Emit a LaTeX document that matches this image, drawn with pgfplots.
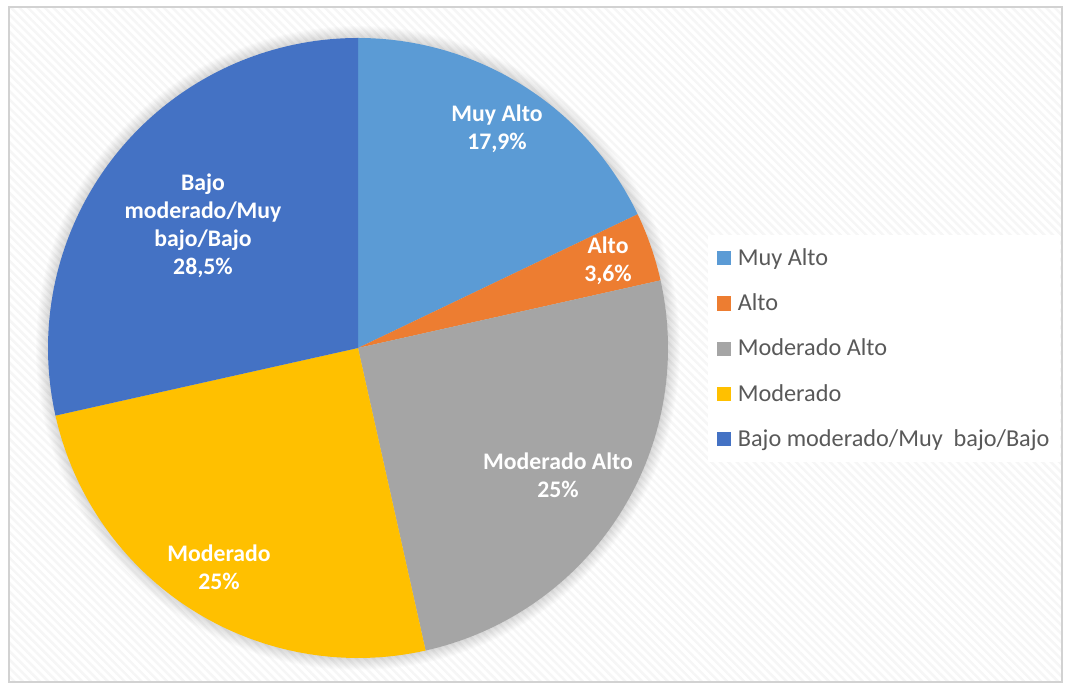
\documentclass[border=0pt]{standalone}
\usepackage{pgfplots}
\pgfplotsset{compat=1.18}
\usepackage{pgfplotstable}
\usepackage{fontspec}
\setmainfont{Carlito}
\usetikzlibrary{patterns.meta}
\definecolor{cMuyAlto}{HTML}{5B9BD5}
\definecolor{cAlto}{HTML}{ED7D31}
\definecolor{cModAlto}{HTML}{A5A5A5}
\definecolor{cMod}{HTML}{FFC000}
\definecolor{cBajo}{HTML}{4472C4}
\definecolor{legtext}{HTML}{595959}

\pgfplotstableread{
value
17.9
3.6
25
25
28.5
}\piedata

\begin{document}
\begin{tikzpicture}
\pgfplotstablegetelem{0}{value}\of\piedata \let\vA\pgfplotsretval
\pgfplotstablegetelem{1}{value}\of\piedata \let\vB\pgfplotsretval
\pgfplotstablegetelem{2}{value}\of\piedata \let\vC\pgfplotsretval
\pgfplotstablegetelem{3}{value}\of\piedata \let\vD\pgfplotsretval
\pgfplotstablegetelem{4}{value}\of\piedata \let\vE\pgfplotsretval
\pgfmathsetmacro\aA{90}
\pgfmathsetmacro\aB{\aA-3.6*\vA}
\pgfmathsetmacro\aC{\aB-3.6*\vB}
\pgfmathsetmacro\aD{\aC-3.6*\vC}
\pgfmathsetmacro\aE{\aD-3.6*\vD}
\pgfmathsetmacro\aF{\aE-3.6*\vE}
\def\R{232.5pt}
\begin{axis}[
  scale only axis, width=799.5pt, height=513pt,
  xmin=0, xmax=1066, ymin=0, ymax=684,
  hide axis, clip=false,
  legend style={at={(axis cs:708,449)}, anchor=north west, fill=white, draw=none,
    font=\fontsize{18.2}{21}\selectfont, text=legtext, row sep=15.8pt, column sep=3.6pt,
    inner xsep=6.2pt, inner ysep=8pt,
    nodes={inner sep=2pt}},
  legend cell align=left,
]
\fill[white] (axis cs:0,0) rectangle (axis cs:1066,684);
\fill[pattern={Lines[angle=-45,distance=4.5pt,line width=1.8pt]}, pattern color=gray!7] (axis cs:9,2) rectangle (axis cs:1062,677);
\draw[gray!35, line width=0.9pt] (axis cs:9,2) rectangle (axis cs:1062,677);
\pgfplotsinvokeforeach{1,...,12}{
  \fill[black, opacity=0.012] (axis cs:358,336) circle[radius={232.5pt+#1*0.75pt}];
}
\fill[cMuyAlto] (axis cs:358,336) -- ++(\aA:\R) arc[start angle=\aA, end angle=\aB, radius=\R] -- cycle;
\fill[cAlto] (axis cs:358,336) -- ++(\aB:\R) arc[start angle=\aB, end angle=\aC, radius=\R] -- cycle;
\fill[cModAlto] (axis cs:358,336) -- ++(\aC:\R) arc[start angle=\aC, end angle=\aD, radius=\R] -- cycle;
\fill[cMod] (axis cs:358,336) -- ++(\aD:\R) arc[start angle=\aD, end angle=\aE, radius=\R] -- cycle;
\fill[cBajo] (axis cs:358,336) -- ++(\aE:\R) arc[start angle=\aE, end angle=\aF, radius=\R] -- cycle;

\tikzset{lbl/.style={text=white, font=\fontsize{17.8}{21}\selectfont\bfseries, align=center, inner sep=0pt}}
\node[lbl] at (axis cs:497,555) {Muy Alto\\17,9\%};
\node[lbl] at (axis cs:608,423) {Alto\\3,6\%};
\node[lbl] at (axis cs:558,209) {Moderado Alto\\25\%};
\node[lbl] at (axis cs:219,117) {Moderado\\25\%};
\node[lbl] at (axis cs:203,458) {Bajo\\moderado/Muy\\bajo/Bajo\\28,5\%};

\addlegendimage{legend image code/.code={\fill[cMuyAlto] (0pt,-5pt) rectangle (10pt,5pt);}}
\addlegendentry{Muy Alto}
\addlegendimage{legend image code/.code={\fill[cAlto] (0pt,-5pt) rectangle (10pt,5pt);}}
\addlegendentry{Alto}
\addlegendimage{legend image code/.code={\fill[cModAlto] (0pt,-5pt) rectangle (10pt,5pt);}}
\addlegendentry{Moderado Alto}
\addlegendimage{legend image code/.code={\fill[cMod] (0pt,-5pt) rectangle (10pt,5pt);}}
\addlegendentry{Moderado}
\addlegendimage{legend image code/.code={\fill[cBajo] (0pt,-5pt) rectangle (10pt,5pt);}}
\addlegendentry{Bajo moderado/Muy~~bajo/Bajo}
\end{axis}
\end{tikzpicture}
\end{document}
